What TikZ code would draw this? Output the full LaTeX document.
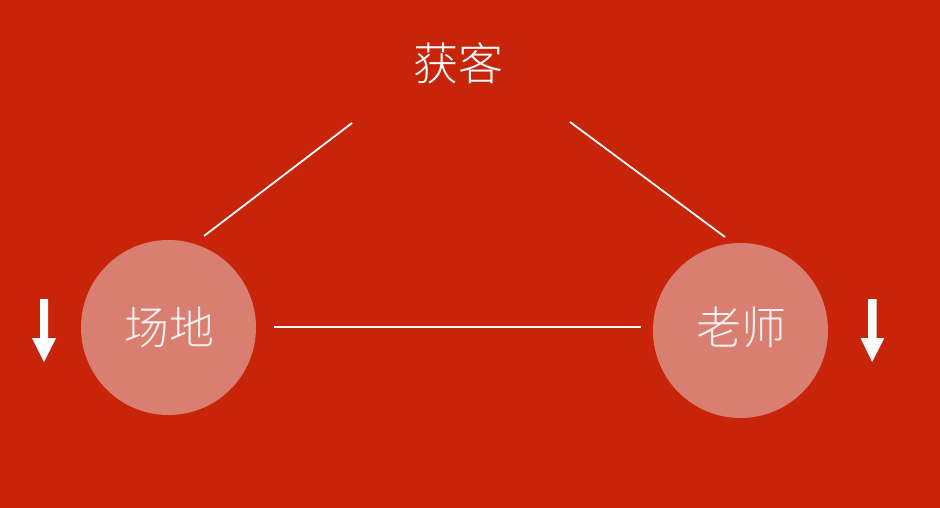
\documentclass[tikz,border=0pt]{standalone}
\usepackage{fontspec}
\newfontfamily\cjk{Noto Sans CJK SC}[UprightFont=* Light]
\definecolor{bgred}{HTML}{C8240A}
\definecolor{circfill}{HTML}{D97F72}
\definecolor{txtwhite}{HTML}{FBF1EF}
\tikzset{
  x=1pt, y=-1pt,
  bubble/.style={circle, fill=circfill, minimum size=175pt, inner sep=0pt},
  label cjk/.style={text=txtwhite, font=\cjk\fontsize{45}{45}\selectfont},
  link/.style={white, line width=1.8pt},
  downarrow/.style={fill=white, draw=none}
}
\begin{document}
\begin{tikzpicture}
\fill[bgred] (0,0) rectangle (940,508);
\useasboundingbox (0,0) rectangle (940,508);
% nodes
\node[bubble] (venue) at (168.5,327.5) {};
\node[bubble] (teacher) at (740.5,330.5) {};
\node[label cjk] (venuetext) at (169,327.5) {场地};
\node[label cjk] (teachertext) at (741,327.5) {老师};
\node[label cjk, text=white] (acq) at (458.5,63.5) {获客};
% connector ends
\coordinate (l1a) at (204,236);
\coordinate (l1b) at (352,123);
\coordinate (l2a) at (570,122);
\coordinate (l2b) at (725,237);
\coordinate (l3a) at (274,327);
\coordinate (l3b) at (641,327);
\draw[link] (l1a) -- (l1b);
\draw[link] (l2a) -- (l2b);
\draw[link] (l3a) -- (l3b);
% arrows
\fill[downarrow] (40,299) -- (48,299) -- (48,338) -- (56,338) -- (44,362) -- (32,338) -- (40,338) -- cycle;
\fill[downarrow] (868,299) -- (876.5,299) -- (876.5,338) -- (884.3,338) -- (872.2,362) -- (860.5,338) -- (868,338) -- cycle;
\end{tikzpicture}
\end{document}
